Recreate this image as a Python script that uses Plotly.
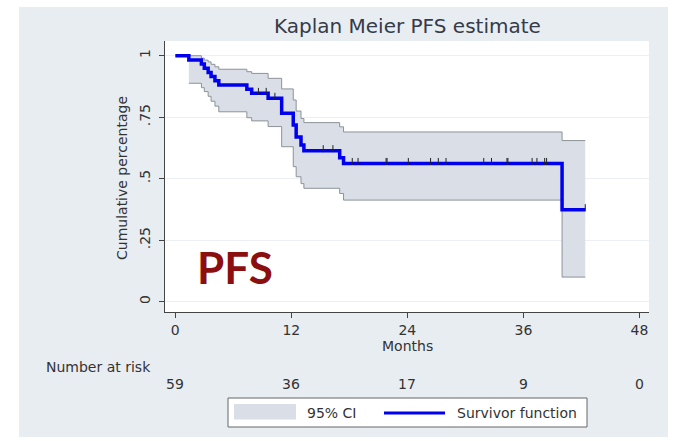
import numpy as np
import plotly.graph_objects as go

# Kaplan-Meier step function (months, survivor estimate, 95% CI bounds)
times = [0, 1.4, 2.7, 3.0, 3.4, 3.7, 4.1, 4.5, 7.4, 7.9, 9.6, 11.0, 12.2, 12.5,
         13.0, 13.3, 17.0, 17.4, 40.0, 42.4]
surv = [1.0, 0.983, 0.966, 0.949, 0.932, 0.915, 0.898, 0.881, 0.864, 0.847,
        0.827, 0.766, 0.718, 0.670, 0.637, 0.614, 0.585, 0.562, 0.374, 0.374]
ci_lower = [None, 0.888, 0.870, 0.854, 0.835, 0.815, 0.795, 0.772, 0.748, 0.735,
            0.712, 0.630, 0.549, 0.508, 0.480, 0.461, 0.440, 0.413, 0.100, 0.100]
ci_upper = [None, 1.0, 0.990, 0.982, 0.975, 0.965, 0.955, 0.945, 0.935, 0.928,
            0.908, 0.865, 0.820, 0.775, 0.745, 0.728, 0.711, 0.690, 0.655, 0.655]

# censored observations (months)
censor_times = [8.6, 9.4, 10.3, 15.3, 16.3, 18.3, 18.9, 21.8, 21.9, 24.1, 26.4,
                27.2, 28.0, 31.9, 32.7, 34.3, 34.4, 36.9, 37.4, 38.2, 38.4, 42.4]

# number at risk table
risk_times = [0, 12, 24, 36, 48]
risk_counts = [59, 36, 17, 9, 0]

x_ticks = [0, 12, 24, 36, 48]
y_ticks = [0, 0.25, 0.5, 0.75, 1]
y_ticktext = ["0", ".25", ".5", ".75", "1"]

FONT = "DejaVu Sans"
TXT = "#333333"
PANEL = "#e8edf2"
CI_FILL = "#d9dee7"
CI_LINE = "#8d9298"
BLUE = "#0000ee"

fig = go.Figure()

# confidence band
fig.add_trace(go.Scatter(
    x=times[1:], y=ci_lower[1:], mode="lines", line=dict(shape="hv", color=CI_LINE, width=1),
    hoverinfo="skip", showlegend=False))
fig.add_trace(go.Scatter(
    x=times[1:], y=ci_upper[1:], mode="lines", line=dict(shape="hv", color=CI_LINE, width=1),
    fill="tonexty", fillcolor=CI_FILL, hoverinfo="skip", showlegend=False))

# survivor function
fig.add_trace(go.Scatter(
    x=times, y=surv, mode="lines", line=dict(shape="hv", color=BLUE, width=3.5),
    showlegend=False))

# censoring ticks on the curve
t_arr = np.array(times)
s_arr = np.array(surv)
idx = np.searchsorted(t_arr, np.array(censor_times), side="right") - 1
fig.add_trace(go.Scatter(
    x=censor_times, y=s_arr[idx] + 0.008, mode="markers",
    marker=dict(symbol="line-ns-open", size=5, color="#222222",
                line=dict(color="#222222", width=1)),
    showlegend=False, hoverinfo="skip"))

# helpers: pixel -> paper coordinates
L, R, T, B = 165, 30, 41, 129
W, H = 679, 441
pw, ph = W - L - R, H - T - B


def px(x):
    return (x - L) / pw


def py(y):
    return (H - B - y) / ph


shapes = [
    # graph region panel
    dict(type="rect", xref="paper", yref="paper", x0=px(19), x1=px(668), y0=py(437), y1=py(7),
         fillcolor=PANEL, line=dict(width=0), layer="below"),
    # white plot region
    dict(type="rect", xref="paper", yref="paper", x0=0, x1=1, y0=0, y1=1,
         fillcolor="white", line=dict(width=0), layer="below"),
    # legend box
    dict(type="rect", xref="paper", yref="paper", x0=px(228), x1=px(587), y0=py(427), y1=py(398),
         fillcolor="white", line=dict(color="#666666", width=1)),
    dict(type="rect", xref="paper", yref="paper", x0=px(234), x1=px(296), y0=py(419.5), y1=py(404),
         fillcolor=CI_FILL, line=dict(width=0)),
    dict(type="line", xref="paper", yref="paper", x0=px(384), x1=px(445), y0=py(413), y1=py(413),
         line=dict(color=BLUE, width=3)),
]

annotations = [
    dict(text="Kaplan Meier PFS estimate", xref="paper", yref="paper", x=0.5, y=py(26),
         showarrow=False, font=dict(family=FONT, size=20, color="#353b48"),
         xanchor="center", yanchor="middle"),
    dict(text="Cumulative percentage", xref="paper", yref="paper", x=px(122), y=py(178),
         textangle=-90, showarrow=False, font=dict(family=FONT, size=14, color=TXT),
         xanchor="center", yanchor="middle"),
    dict(text="Months", xref="paper", yref="paper", x=px(407), y=py(346),
         showarrow=False, font=dict(family=FONT, size=14, color=TXT),
         xanchor="center", yanchor="middle"),
    dict(text="Number at risk", xref="paper", yref="paper", x=px(153), y=py(367),
         showarrow=False, font=dict(family=FONT, size=14, color=TXT),
         xanchor="right", yanchor="middle"),
    dict(text="PFS", xref="x", yref="y", x=6.17, y=0.14, showarrow=False,
         font=dict(family="Lato", size=44, color="#8b0f0f", weight="bold"),
         xanchor="center", yanchor="middle"),
    dict(text="95% CI", xref="paper", yref="paper", x=px(305), y=py(413),
         showarrow=False, font=dict(family=FONT, size=14, color=TXT),
         xanchor="left", yanchor="middle"),
    dict(text="Survivor function", xref="paper", yref="paper", x=px(455), y=py(413),
         showarrow=False, font=dict(family=FONT, size=14, color=TXT),
         xanchor="left", yanchor="middle"),
]
for t, n in zip(risk_times, risk_counts):
    annotations.append(dict(text=str(n), xref="x", yref="paper", x=t, y=py(384),
                            showarrow=False, font=dict(family=FONT, size=14, color=TXT),
                            xanchor="center", yanchor="middle"))

fig.update_layout(
    width=W, height=H,
    margin=dict(l=L, r=R, t=T, b=B),
    paper_bgcolor="white", plot_bgcolor="white",
    shapes=shapes, annotations=annotations,
    font=dict(family=FONT, size=14, color=TXT),
    xaxis=dict(range=[-1.065, 48.99], tickvals=x_ticks, ticks="outside", ticklen=5,
               tickcolor="#444444", showline=True, linecolor="#444444", linewidth=1,
               showgrid=False, zeroline=False, tickfont=dict(family=FONT, size=14, color=TXT)),
    yaxis=dict(range=[-0.0419, 1.0598], tickvals=y_ticks, ticktext=y_ticktext, tickangle=-90,
               ticks="outside", ticklen=5, tickcolor="#444444", showline=True,
               linecolor="#444444", linewidth=1, showgrid=True, gridcolor="#eceff3",
               gridwidth=1, zeroline=False, ticklabelstandoff=3,
               tickfont=dict(family=FONT, size=14, color=TXT)),
)

fig.write_html("out.html")
